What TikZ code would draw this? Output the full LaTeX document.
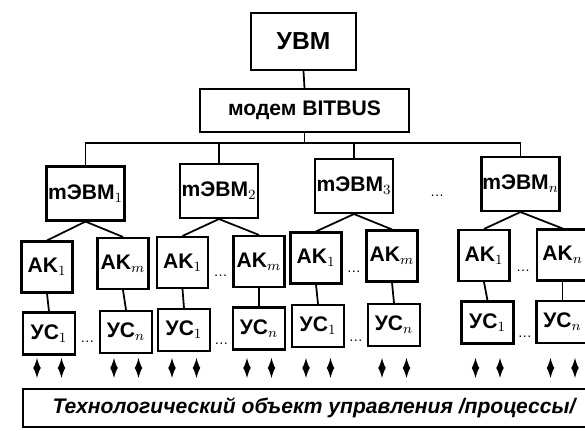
\documentclass[tikz,border=0pt]{standalone}
\usepackage{fontspec}
\setmainfont{Liberation Sans}

\begin{document}
\begin{tikzpicture}[x=0.02cm, y=-0.02cm,
	blk/.style={draw, line width=1.2pt, inner sep=0pt, font=\bfseries\fontsize{12}{14}\selectfont},
	evm/.style={blk, minimum width=1.56cm, minimum height=1.08cm},
	ak/.style={blk, minimum width=1.02cm, minimum height=1.02cm},
	us/.style={blk, minimum width=1.04cm, minimum height=0.84cm},
	link/.style={line width=1pt},
	sig/.style={<->, >=latex, line width=1pt},
	dts/.style={font=\footnotesize, inner sep=0pt}]
	\useasboundingbox (0, 0) rectangle (585, 431);
	\node[blk, minimum width=2.1cm, minimum height=1.14cm, font=\bfseries\fontsize{14}{16}\selectfont] (uvm) at (303.5, 41.5) {УВМ};
	\node[blk, minimum width=4.18cm, minimum height=0.86cm, font=\bfseries\fontsize{12}{14}\selectfont] (bus) at (304.5, 110.5) {модем BITBUS};
	\node[evm] (m1) at (85.5, 193.5) {mЭВМ$_1$};
	\node[evm] (m2) at (219, 191) {mЭВМ$_2$};
	\node[evm] (m3) at (354, 186) {mЭВМ$_3$};
	\node[evm] (m4) at (520.5, 184) {mЭВМ$_n$};
	\node[ak] (a11) at (47, 267) {AK$_1$};
	\node[ak] (a12) at (123, 263.5) {AK$_m$};
	\node[ak] (a21) at (182.5, 262.5) {AK$_1$};
	\node[ak] (a22) at (259, 261.5) {AK$_m$};
	\node[ak] (a31) at (316, 258) {AK$_1$};
	\node[ak] (a32) at (392, 256) {AK$_m$};
	\node[ak] (a41) at (484, 255.5) {AK$_1$};
	\node[ak] (a42) at (562.5, 255) {AK$_n$};
	\node[us] (u11) at (49, 333.5) {УС$_1$};
	\node[us] (u12) at (126, 332) {УС$_n$};
	\node[us] (u21) at (184, 330) {УС$_1$};
	\node[us] (u22) at (259, 328.5) {УС$_n$};
	\node[us] (u31) at (318, 326) {УС$_1$};
	\node[us] (u32) at (394, 325) {УС$_n$};
	\node[us] (u41) at (487.5, 322.5) {УС$_1$};
	\node[us] (u42) at (562.5, 322) {УС$_n$};
	\node[blk, minimum width=11.94cm, minimum height=0.76cm, font=\bfseries\itshape\fontsize{12}{14}\selectfont] (obj) at (321.5, 408) {\hspace*{-0.3cm}Технологический объект управления /процессы/};
	\coordinate (bus-y) at (0, 143);
	\draw[link] (uvm.south) -- (bus.north);
	\draw[link] (bus.south) -- (bus.south |- bus-y);
	\draw[link] (m1.north) -- (m1.north |- bus-y) -- (m4.north |- bus-y) -- (m4.north);
	\draw[link] (m2.north) -- (m2.north |- bus-y);
	\draw[link] (m3.north) -- (m3.north |- bus-y);
	\foreach \m/\a in {m1/a11, m1/a12, m2/a21, m2/a22, m3/a31, m3/a32, m4/a41, m4/a42}
		\draw[link] (\m.south) -- (\a.north);
	\foreach \a/\u in {a11/u11, a12/u12, a21/u21, a22/u22, a31/u31, a32/u32, a41/u41, a42/u42}
		\draw[link] (\a.south) -- (\u.north);
	\foreach \u in {u11, u12, u21, u22, u31, u32, u41, u42}
		\foreach \s in {-0.24cm, 0.25cm}
			\draw[sig] ([xshift=\s, yshift=0.2cm]\u.south |- obj.north) -- ++(0, -20);
	\path (m3) -- node[dts, yshift=-0.22cm] (d0) {\dots} (m4);
	\path (a21) -- node[dts, yshift=-0.28cm] (d1) {\dots} (a22);
	\path (a31) -- node[dts, yshift=-0.3cm] (d2) {\dots} (a32);
	\path (a41) -- node[dts, yshift=-0.32cm] (d3) {\dots} (a42);
	\path (u11) -- node[dts, yshift=-0.18cm] (d4) {\dots} (u12);
	\path (u21) -- node[dts, yshift=-0.3cm] (d5) {\dots} (u22);
	\path (u31) -- node[dts, yshift=-0.3cm] (d6) {\dots} (u32);
	\path (u41) -- node[dts, yshift=-0.3cm] (d7) {\dots} (u42);
\end{tikzpicture}
\end{document}
